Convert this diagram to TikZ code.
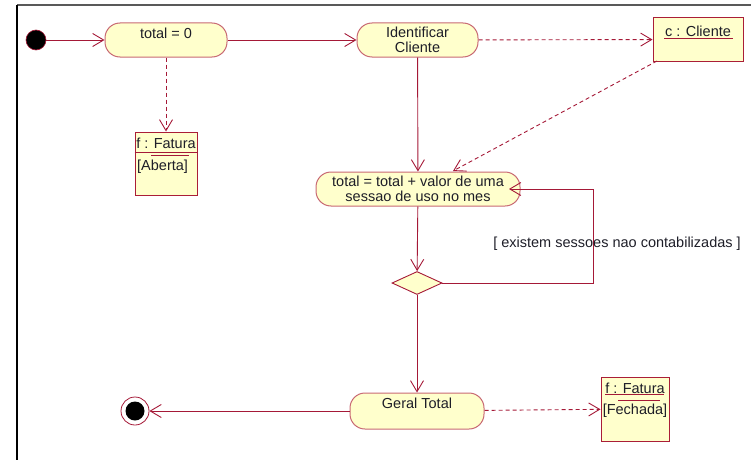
\documentclass[tikz,border=0pt]{standalone}
\usepackage{fontspec}
\setmainfont{Liberation Sans}
\usetikzlibrary{arrows.meta,shapes.geometric}
\definecolor{flowred}{RGB}{165,25,55}
\definecolor{actborder}{RGB}{200,105,115}
\definecolor{objborder}{RGB}{170,30,55}
\definecolor{actfill}{RGB}{255,255,204}
\definecolor{inktext}{RGB}{30,30,40}
\tikzset{
  x=1pt, y=-1pt,
  every node/.style={font=\fontsize{14.5}{17}\selectfont, text=inktext},
  actbox/.style={draw=actborder, fill=actfill, line width=1pt, rounded corners=15pt, inner sep=0pt},
  objbox/.style={draw=objborder, fill=actfill, line width=1pt, inner sep=0pt},
  txt/.style={inner sep=0pt, align=center},
  flow/.style={draw=flowred, line width=0.9pt, -{Straight Barb[length=11pt,width=13pt,line width=0.9pt]}},
  dep/.style={flow, dash pattern=on 4pt off 3pt},
  guard/.style={inner sep=0pt},
}
\begin{document}
\begin{tikzpicture}
\useasboundingbox (0,0) rectangle (751,460);
% frame edges
\draw[gray!70!black, line width=2pt] (17,5) -- (751,5);
\draw[black, line width=1.2pt] (17,5) -- (17,460);

% initial and final states
\node[circle, fill=black, draw=flowred, line width=0.6pt, minimum size=20pt, inner sep=0pt] (start) at (36,40) {};
\node[circle, draw=flowred, fill=white, line width=0.8pt, minimum size=28pt, inner sep=0pt] (stop) at (135,411) {};
\node[circle, fill=black, minimum size=19pt, inner sep=0pt] (stopdot) at (135,411) {};

% actions
\node[actbox, minimum width=122pt, minimum height=34pt] (init) at (166,40) {};
\node[txt] (initt) at (166,33) {total = 0};
\node[actbox, minimum width=121pt, minimum height=34pt, align=center] (ident) at (417.5,40) {Identificar\\[-2pt]Cliente};
\node[actbox, minimum width=204pt, minimum height=34pt, align=center] (sum) at (418,189) {total = total + valor de uma\\[-2pt]sessao de uso no mes};
\node[actbox, minimum width=134pt, minimum height=36pt] (geral) at (417,411) {};
\node[txt] (geralt) at (417,403) {Geral Total};

% decision
\node[diamond, draw=flowred, fill=actfill, line width=0.9pt, minimum width=50pt, minimum height=23pt, inner sep=0pt] (dec) at (417,283) {};

% objects
\node[objbox, minimum width=90pt, minimum height=43pt] (cli) at (698,39.5) {};
\node[txt] (clit) at (698,31) {c : Cliente};
\draw[flowred, line width=0.9pt] (664,38) -- (733,38);

\node[objbox, minimum width=62pt, minimum height=63pt] (fab) at (166,163.5) {};
\node[txt] (fabt) at (166,143) {f : Fatura};
\node[txt, anchor=west] (fabs) at (137,167) {[Aberta]};
\draw[flowred, line width=0.9pt] (fab.west |- 0,152.5) -- (fab.east |- 0,152.5);
\draw[flowred, line width=0.9pt] (151,155) -- (189,155);

\node[objbox, minimum width=68pt, minimum height=64pt] (ffe) at (635,409) {};
\node[txt] (ffet) at (635,388) {f : Fatura};
\node[txt] (ffes) at (635,411) {[Fechada]};
\draw[flowred, line width=0.9pt] (605,394) -- (664,394);
\draw[flowred, line width=0.9pt] (618,400) -- (660,400);

% control flows
\draw[flow] (start) -- (init);
\draw[flow] (init) -- (ident);
\draw[flow] (ident) -- (sum);
\draw[flow] (sum) -- (dec);
\draw[flow] (dec) -- (geral);
\draw[flow] (geral) -- (stop);
\coordinate (loopin) at (509,189);
\draw[flow] (dec.east) -- (593,283) -- (593,189) -- (loopin);
\node[guard] (grd) at (617,244) {[ existem sessoes nao contabilizadas ]};

% object flows
\draw[dep] (init) -- (fab);
\draw[dep] (ident) -- (cli);
\coordinate (clifoot) at (657,61);
\coordinate (sumtop) at (453,171);
\draw[dep] (clifoot) -- (sumtop);
\draw[dep] (geral) -- (ffe);
\end{tikzpicture}
\end{document}
